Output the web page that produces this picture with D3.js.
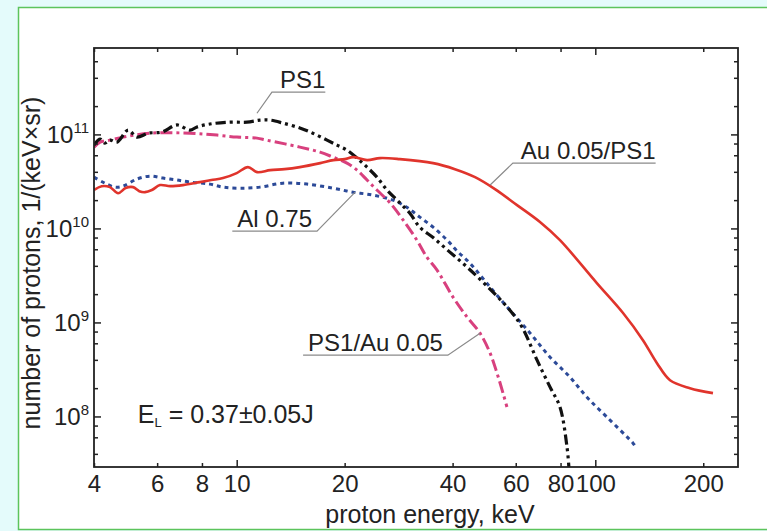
<!DOCTYPE html>
<html>
<head>
<meta charset="utf-8">
<script src="https://cdn.jsdelivr.net/npm/d3@7"></script>
<style>
  body { margin: 0; background: #e4fbfb; }
  svg { display: block; font-family: "Liberation Sans", Arial, sans-serif; }
</style>
</head>
<body>
<div id="chart"></div>
<script>
// Axis ticks
const xTicks = [4, 6, 8, 10, 20, 40, 60, 80, 100, 200];
const xMajor = [10, 100];
const yMajor = [1e8, 1e9, 1e10, 1e11];

// Au 0.05/PS1 (red, solid)
const auE = [4.0, 4.2, 4.43, 4.67, 4.9, 5.14, 5.35, 5.55, 5.8, 6.11, 6.52, 7.08, 7.9, 8.5, 9.16, 10.0, 10.75, 11.4, 12.4, 13.6, 15.0, 17.1, 18.6, 20.0, 21.1, 23.1, 25.1, 28.5, 35.3, 40.6, 46.2, 52.5, 60.5, 70.1, 79.7, 101, 119.5, 135.8, 148.6, 161.6, 183.6, 212.9];
const auN = [2.56e10, 2.81e10, 2.75e10, 2.37e10, 2.69e10, 2.75e10, 2.49e10, 2.43e10, 2.56e10, 2.89e10, 2.82e10, 2.89e10, 3.11e10, 3.27e10, 3.43e10, 3.88e10, 4.49e10, 3.97e10, 4.17e10, 4.27e10, 4.49e10, 4.95e10, 5.33e10, 5.46e10, 5.73e10, 5.33e10, 5.6e10, 5.46e10, 4.95e10, 4.27e10, 3.51e10, 2.62e10, 1.77e10, 1.17e10, 7.5e9, 2.62e9, 1.26e9, 6.48e8, 3.69e8, 2.43e8, 2.0e8, 1.77e8];

// PS1 (black, dash-dot-dot)
const ps1E = [4.0, 4.16, 4.29, 4.43, 4.64, 4.98, 5.27, 5.66, 6.19, 6.82, 7.41, 7.75, 8.42, 9.58, 10.68, 11.62, 12.38, 13.46, 15.0, 16.3, 17.86, 19.04, 20.3, 21.65, 23.09, 24.6, 26.25, 28.0, 30.4, 32.4, 35.3, 39.3, 43.9, 49.9, 57.8, 62.5, 68.8, 74.8, 79.7, 83.4, 84.4];
const ps1N = [7.69e10, 8.92e10, 8.08e10, 8.7e10, 8.28e10, 1.11e11, 9.36e10, 1.03e11, 1.06e11, 1.26e11, 1.11e11, 1.2e11, 1.29e11, 1.35e11, 1.35e11, 1.42e11, 1.42e11, 1.32e11, 1.17e11, 1.03e11, 8.7e10, 7.69e10, 6.81e10, 5.6e10, 4.49e10, 3.51e10, 2.56e10, 2.0e10, 1.45e10, 1.03e10, 8.0e9, 5.6e9, 3.88e9, 2.43e9, 1.35e9, 8.9e8, 3.97e8, 2.05e8, 1.26e8, 4.71e7, 2.9e7];

// PS1/Au 0.05 (magenta, dash-dot)
const psAuE = [4.0, 4.16, 4.43, 4.82, 5.73, 7.41, 8.81, 10.02, 11.39, 12.1, 15.0, 17.07, 18.56, 20.3, 21.65, 23.09, 24.6, 26.8, 29.1, 31.8, 33.9, 36.2, 40.1, 43.9, 47.7, 50.9, 53.2, 55.3, 56.7];
const psAuN = [7.33e10, 8.28e10, 8.7e10, 9.36e10, 1.03e11, 1.03e11, 9.83e10, 9.36e10, 9.13e10, 8.7e10, 7.33e10, 6.48e10, 5.73e10, 4.95e10, 4.17e10, 3.27e10, 2.56e10, 1.86e10, 1.23e10, 7.51e9, 4.95e9, 3.6e9, 1.86e9, 1.14e9, 7.69e8, 4.71e8, 2.89e8, 1.77e8, 1.26e8];

// Al 0.75 (blue, dotted)
const alE = [4.0, 4.29, 4.58, 4.82, 5.27, 5.73, 6.23, 6.82, 7.41, 8.42, 9.16, 10.2, 11.62, 13.46, 15.7, 18.56, 21.1, 24.0, 27.3, 29.8, 32.4, 35.3, 38.6, 41.2, 44.7, 50.9, 57.8, 65.8, 74.8, 85.0, 94.8, 107.8, 127.4, 129.9];
const alN = [3.51e10, 3.03e10, 2.75e10, 2.82e10, 3.35e10, 3.6e10, 3.43e10, 3.27e10, 3.11e10, 2.96e10, 2.75e10, 2.68e10, 2.75e10, 3.03e10, 2.96e10, 2.68e10, 2.43e10, 2.26e10, 2.0e10, 1.68e10, 1.32e10, 1.03e10, 7.51e9, 5.73e9, 4.27e9, 2.37e9, 1.35e9, 7.69e8, 4.27e8, 2.62e8, 1.6e8, 9.83e7, 5.2e7, 4.71e7];

const series = [
  { E: alE, N: alN, color: "#2c4a98", width: 3, dash: "4,4" },
  { E: psAuE, N: psAuN, color: "#d8407e", width: 3, dash: "12,4,3,4" },
  { E: ps1E, N: ps1N, color: "#111111", width: 3.2, dash: "10,4,3,4,3,4" },
  { E: auE, N: auN, color: "#e0342c", width: 2.6, dash: null },
];

// Callout labels: elbow point (E, N), side of the elbow, pointed-to point on the curve
const callouts = [
  { text: "PS1", E: 12.54, N: 2.82e11, side: "left", pE: 11.39, pN: 1.68e11 },
  { text: "Al 0.75", E: 16.75, N: 9.36e9, side: "right", pE: 21.4, pN: 2.43e10 },
  { text: "Au 0.05/PS1", E: 58.9, N: 4.95e10, side: "left", pE: 50.9, pN: 2.9e10 },
  { text: "PS1/Au 0.05", E: 38.8, N: 4.49e8, side: "right", pE: 47.7, pN: 7.69e8 },
];

const width = 767, height = 531;
const plot = { left: 94, right: 738, top: 48, bottom: 467 };

const svg = d3.select("#chart").append("svg")
  .attr("width", width)
  .attr("height", height);

// Page frame: cyan margin with a green-bordered white panel
svg.append("rect").attr("width", width).attr("height", height).attr("fill", "#e4fbfb");
svg.append("rect")
  .attr("x", 18.5).attr("y", 7.5)
  .attr("width", width).attr("height", 522)
  .attr("fill", "#ffffff")
  .attr("stroke", "#5cc45c")
  .attr("stroke-width", 1.5);

const x = d3.scaleLog().domain([4, 250]).range([plot.left, plot.right]);
const y = d3.scaleLog().domain([2.9e7, 8.3e11]).range([plot.bottom, plot.top]);

// Minor y ticks at 2,4,6,8 per decade
const yMinor = [];
for (let e = 7; e <= 11; e++) {
  [2, 4, 6, 8].forEach((m) => {
    const v = m * Math.pow(10, e);
    if (y(v) > plot.top + 3 && y(v) < plot.bottom - 3) yMinor.push(v);
  });
}

svg.append("defs").append("clipPath").attr("id", "clip")
  .append("rect")
  .attr("x", plot.left).attr("y", plot.top)
  .attr("width", plot.right - plot.left).attr("height", plot.bottom - plot.top);

// Curves
const line = d3.line()
  .x((d) => x(d[0]))
  .y((d) => y(d[1]))
  .curve(d3.curveCatmullRom.alpha(0.5));

series.forEach((s) => {
  svg.append("path")
    .datum(s.E.map((e, i) => [e, s.N[i]]))
    .attr("clip-path", "url(#clip)")
    .attr("d", line)
    .attr("fill", "none")
    .attr("stroke", s.color)
    .attr("stroke-width", s.width)
    .attr("stroke-dasharray", s.dash);
});

// Axes, ticks pointing inward
function styleAxis(g) {
  g.select(".domain").remove();
  g.selectAll("line").attr("stroke", "#222").attr("stroke-width", 1.5);
  g.selectAll("text").attr("fill", "#222").attr("font-size", 24).attr("font-family", null);
}

const bottomAxis = svg.append("g")
  .attr("transform", `translate(0,${plot.bottom})`)
  .call(d3.axisBottom(x).tickValues(xTicks).tickFormat(d3.format("d")).tickSize(-4).tickPadding(8))
  .call(styleAxis);
bottomAxis.selectAll(".tick line").attr("y2", (d) => (xMajor.includes(d) ? -7 : -4));

const topAxis = svg.append("g")
  .attr("transform", `translate(0,${plot.top})`)
  .call(d3.axisTop(x).tickValues(xTicks).tickFormat("").tickSize(-4))
  .call(styleAxis);
topAxis.selectAll(".tick line").attr("y2", (d) => (xMajor.includes(d) ? 7 : 4));

const leftAxis = svg.append("g")
  .attr("transform", `translate(${plot.left},0)`)
  .call(d3.axisLeft(y).tickValues(yMajor).tickSize(-7).tickPadding(5))
  .call(styleAxis);
leftAxis.selectAll(".tick text").each(function (d) {
  const t = d3.select(this).text(null);
  t.append("tspan").text("10");
  t.append("tspan").attr("dy", -10).attr("font-size", 15).text(Math.round(Math.log10(d)));
});

svg.append("g")
  .attr("transform", `translate(${plot.left},0)`)
  .call(d3.axisLeft(y).tickValues(yMinor).tickFormat("").tickSize(-4))
  .call(styleAxis);

svg.append("g")
  .attr("transform", `translate(${plot.right},0)`)
  .call(d3.axisRight(y).tickValues(yMajor).tickFormat("").tickSize(-7))
  .call(styleAxis);
svg.append("g")
  .attr("transform", `translate(${plot.right},0)`)
  .call(d3.axisRight(y).tickValues(yMinor).tickFormat("").tickSize(-4))
  .call(styleAxis);

// Plot frame
svg.append("rect")
  .attr("x", plot.left).attr("y", plot.top)
  .attr("width", plot.right - plot.left).attr("height", plot.bottom - plot.top)
  .attr("fill", "none")
  .attr("stroke", "#222")
  .attr("stroke-width", 1.8);

// Axis titles
svg.append("text")
  .attr("x", 430).attr("y", 523)
  .attr("text-anchor", "middle")
  .attr("font-size", 25)
  .attr("fill", "#222")
  .text("proton energy, keV");

svg.append("text")
  .attr("transform", "translate(40,263) rotate(-90)")
  .attr("text-anchor", "middle")
  .attr("font-size", 25)
  .attr("fill", "#222")
  .text("number of protons, 1/(keV\u00d7sr)");

// Callouts with underline and leader line
callouts.forEach((c) => {
  const ex = x(c.E), ey = y(c.N);
  const label = svg.append("text")
    .attr("y", ey - 4)
    .attr("font-size", 24)
    .attr("fill", "#222")
    .text(c.text);
  const w = label.node().getComputedTextLength();
  let x0, x1;
  if (c.side === "left") {
    label.attr("x", ex + 8);
    x0 = ex; x1 = ex + 8 + w;
  } else {
    label.attr("x", ex - 5 - w);
    x0 = ex - 10 - w; x1 = ex;
  }
  svg.append("path")
    .attr("d", c.side === "left"
      ? `M${x1},${ey}L${x0},${ey}L${x(c.pE)},${y(c.pN)}`
      : `M${x0},${ey}L${x1},${ey}L${x(c.pE)},${y(c.pN)}`)
    .attr("fill", "none")
    .attr("stroke", "#8a8a8a")
    .attr("stroke-width", 1.2);
});

// Laser energy note
const note = svg.append("text")
  .attr("x", x(5.3)).attr("y", y(8.5e7))
  .attr("font-size", 25)
  .attr("fill", "#222");
note.append("tspan").text("E");
note.append("tspan").attr("font-size", 13).attr("dy", 4).text("L");
note.append("tspan").attr("dy", -4).text(" = 0.37\u00b10.05J");
</script>
</body>
</html>
